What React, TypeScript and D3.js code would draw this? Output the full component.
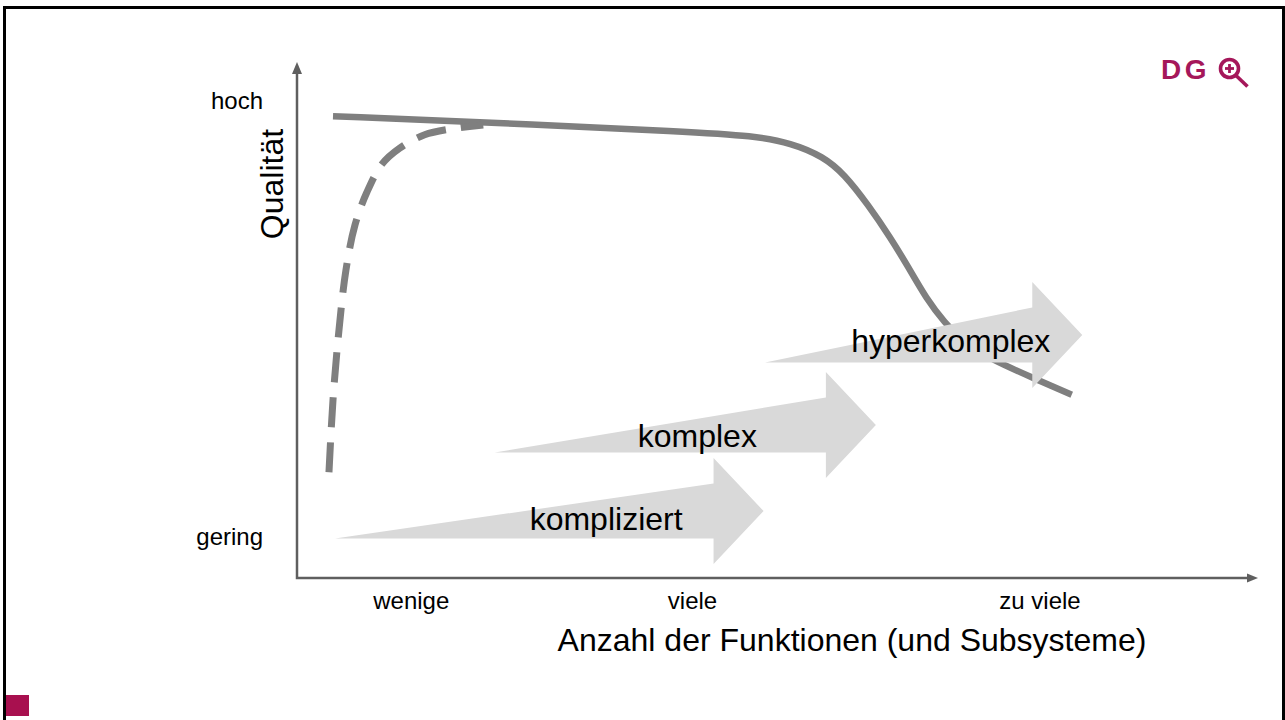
import React from "react";
import * as d3 from "d3";

// ---- data ----
// axis domain 0..100 on both axes
const xTickLabels = ["wenige", "viele", "zu viele"];
const xTickValues = [11.9, 41.2, 77.4];
const yTickLabels = ["gering", "hoch"];
const yTickValues = [7.9, 92.4];

// solid quality curve (x, y)
const solidX = [3.75, 21.1, 40.9, 47.5, 51.5, 54.8, 57.0, 59.5, 61.8, 63.6, 65.6, 67.4, 69.6, 72.5, 76.4, 80.7];
const solidY = [89.5, 88.2, 86.5, 85.7, 84.3, 81.7, 78.3, 72.3, 66.0, 60.5, 54.0, 49.6, 45.5, 42.2, 39.0, 35.5];

// dashed learning curve (x, y)
const dashX = [3.33, 3.75, 4.375, 5.1, 6.04, 7.29, 8.85, 10.7, 13.3, 15.9, 19.4];
const dashY = [20.5, 34.5, 48.1, 59.7, 68.4, 74.8, 80.2, 83.3, 85.9, 87.0, 87.8];

// block arrows
const arrowLabels = ["kompliziert", "komplex", "hyperkomplex"];
const arrowStart = [3.96, 20.6, 48.75];
const arrowEnd = [48.6, 60.3, 81.8];
const arrowLevel = [12.98, 29.65, 47.1];
const arrowLabelX = [32.2, 41.7, 68.1];
const arrowLabelY = [9.3, 25.4, 43.8];

const xTitle = "Anzahl der Funktionen (und Subsysteme)";
const yTitle = "Qualität";

const W = 1285;
const H = 720;
const FONT = "'Liberation Sans', Arial, sans-serif";
const AXIS = "#5f5f5f";
const CURVE = "#7f7f7f";
const ARROW = "#d9d9d9";
const BRAND = "#a5175a";

export default function App() {
  const x = d3.scaleLinear().domain([0, 100]).range([297, 1257]);
  const y = d3.scaleLinear().domain([0, 100]).range([578, 62]);

  const solidLine = d3
    .line<[number, number]>()
    .x((d) => x(d[0]))
    .y((d) => y(d[1]))
    .curve(d3.curveBasis);
  const dashLine = d3
    .line<[number, number]>()
    .x((d) => x(d[0]))
    .y((d) => y(d[1]))
    .curve(d3.curveCatmullRom.alpha(0.5));

  const solidPts = solidX.map((v, i) => [v, solidY[i]] as [number, number]);
  const dashPts = dashX.map((v, i) => [v, dashY[i]] as [number, number]);

  const bodyHalf = 27.5;
  const headHalf = 53;
  const headLen = 50;

  const arrowPath = (i: number) => {
    const tail = x(arrowStart[i]);
    const tip = x(arrowEnd[i]);
    const cy = y(arrowLevel[i]);
    const base = tip - headLen;
    const p = d3.path();
    p.moveTo(tail, cy + bodyHalf);
    p.lineTo(base, cy - bodyHalf);
    p.lineTo(base, cy - headHalf);
    p.lineTo(tip, cy);
    p.lineTo(base, cy + headHalf);
    p.lineTo(base, cy + bodyHalf);
    p.closePath();
    return p.toString();
  };

  const x0 = x(0);
  const y0 = y(0);
  const xEnd = x(100);
  const yEnd = y(100);

  return (
    <div style={{ position: "absolute", left: 0, top: 0 }}>
      <svg width={W} height={H} style={{ display: "block", fontFamily: FONT }}>
        <rect x={0} y={0} width={W} height={H} fill="#fff" />
        {/* frame */}
        <rect x={4.5} y={7.5} width={1279} height={730} fill="none" stroke="#000" strokeWidth={3} />

        {/* logo */}
        <g fill={BRAND}>
          <text x={1161} y={78.5} fontSize={28} fontWeight="bold" letterSpacing={3.5} fontFamily={FONT}>
            DG
          </text>
          <circle cx={1229.5} cy={68.5} r={9} fill="none" stroke={BRAND} strokeWidth={3.6} />
          <line x1={1229.5} y1={64} x2={1229.5} y2={73} stroke={BRAND} strokeWidth={2.8} />
          <line x1={1225} y1={68.5} x2={1234} y2={68.5} stroke={BRAND} strokeWidth={2.8} />
          <line x1={1236} y1={75.5} x2={1247.5} y2={86.5} stroke={BRAND} strokeWidth={3.6} />
        </g>

        {/* bottom-left brand square */}
        <rect x={6} y={695} width={23} height={21} fill="#a8104f" />

        {/* curves */}
        <path d={solidLine(solidPts) || ""} fill="none" stroke={CURVE} strokeWidth={6.5} />
        <path
          d={dashLine(dashPts) || ""}
          fill="none"
          stroke={CURVE}
          strokeWidth={7}
          strokeDasharray="30 15"
        />

        {/* block arrows */}
        {arrowLabels.map((lab, i) => (
          <path key={"a" + lab} d={arrowPath(i)} fill={ARROW} />
        ))}
        {arrowLabels.map((lab, i) => (
          <text
            key={"t" + lab}
            x={x(arrowLabelX[i])}
            y={y(arrowLabelY[i])}
            fontSize={32}
            textAnchor="middle"
            fill="#000"
          >
            {lab}
          </text>
        ))}

        {/* axes */}
        <path
          d={`M${x0},${yEnd + 10} L${x0},${y0} L${xEnd - 9},${y0}`}
          fill="none"
          stroke={AXIS}
          strokeWidth={2.5}
        />
        <path d={`M${x0},${yEnd} L${x0 - 5},${yEnd + 12} L${x0 + 5},${yEnd + 12} Z`} fill={AXIS} />
        <path d={`M${xEnd + 1},${y0} L${xEnd - 10},${y0 - 4.5} L${xEnd - 10},${y0 + 4.5} Z`} fill={AXIS} />

        {/* tick labels */}
        {xTickLabels.map((t, i) => (
          <text key={t} x={x(xTickValues[i])} y={609} fontSize={24} textAnchor="middle" fill="#000">
            {t}
          </text>
        ))}
        {yTickLabels.map((t, i) => (
          <text
            key={t}
            x={263}
            y={y(yTickValues[i]) + 8}
            fontSize={24}
            textAnchor="end"
            fill="#000"
          >
            {t}
          </text>
        ))}

        {/* titles */}
        <text x={852} y={651} fontSize={32} textAnchor="middle" fill="#000">
          {xTitle}
        </text>
        <text
          transform={`translate(283,184) rotate(-90)`}
          fontSize={32}
          textAnchor="middle"
          fill="#000"
        >
          {yTitle}
        </text>
      </svg>
    </div>
  );
}
